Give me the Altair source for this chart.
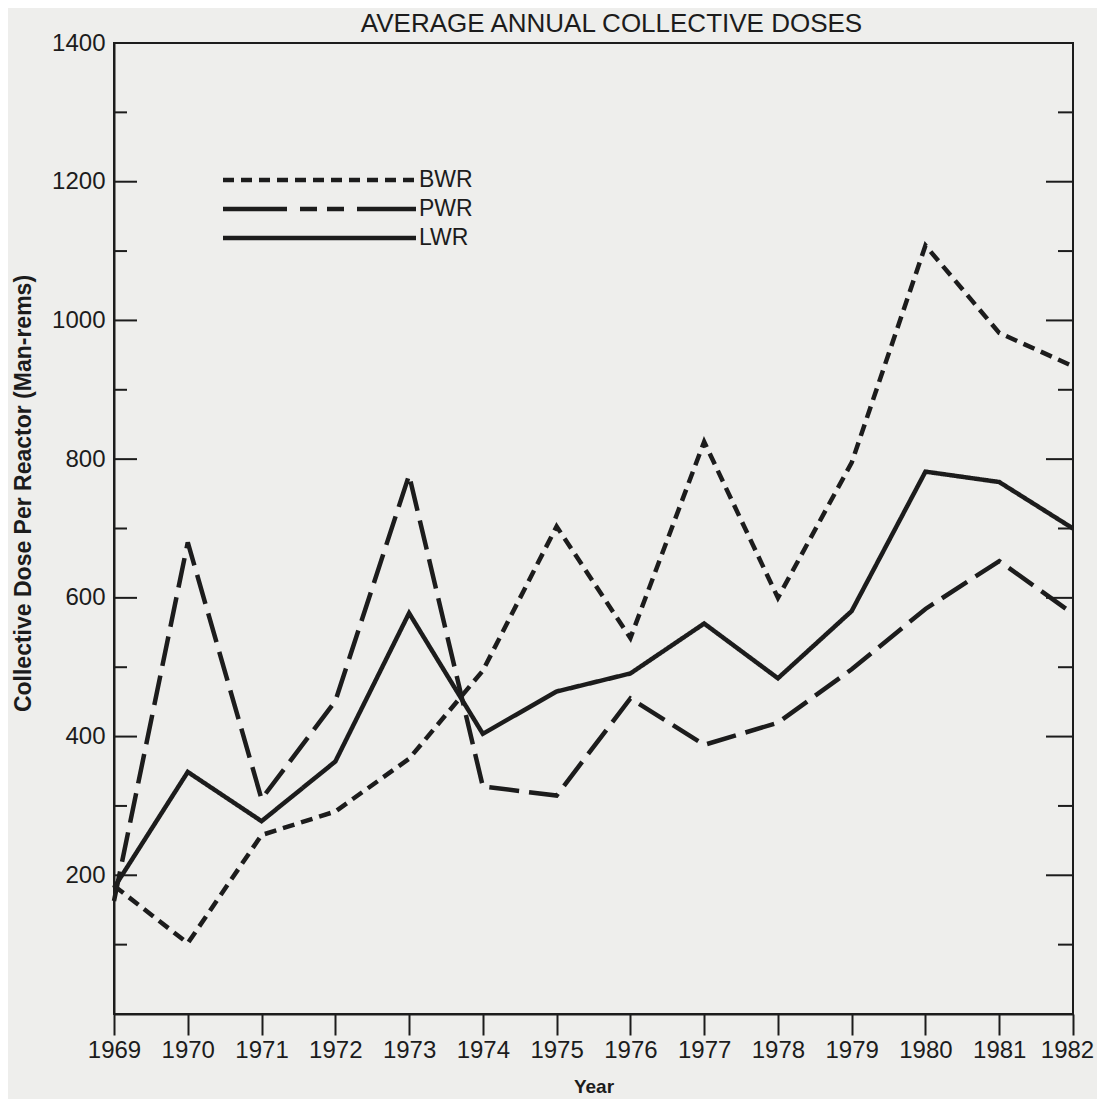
import altair as alt
import pandas as pd

# ---- data ----
years = list(range(1969, 1983))
bwr = [185, 102, 258, 292, 368, 495, 703, 542, 825, 600, 795, 1108, 982, 934]
pwr = [163, 680, 310, 451, 777, 328, 315, 455, 388, 420, 497, 584, 653, 577]
lwr = [182, 349, 278, 364, 578, 404, 465, 491, 563, 484, 581, 782, 767, 700]
series_names = ["BWR", "PWR", "LWR"]
y_label_values = [200, 400, 600, 800, 1000, 1200, 1400]
major_ticks = [200, 400, 600, 800, 1000, 1200]
minor_ticks = [100, 300, 500, 700, 900, 1100, 1300]

# ---- style ----
W, H = 959, 971
INK = "#1c1c1c"
BG = "#eeeeec"
SANS = "Liberation Sans, Arial, sans-serif"

rows = []
for name, vals in zip(series_names, [bwr, pwr, lwr]):
    for yr, v in zip(years, vals):
        rows.append({"year": yr, "dose": v, "series": name})
df = pd.DataFrame(rows)

xscale = alt.Scale(domain=[1969, 1982], nice=False, zero=False)
yscale = alt.Scale(domain=[0, 1400], nice=False, zero=True)
dash_scale = alt.Scale(domain=series_names, range=[[12, 7], [30, 10], [1, 0]])

x_axis = alt.Axis(values=years, format="d", title="Year", grid=False,
                  domain=True, domainColor=INK, domainWidth=2,
                  ticks=True, tickColor=INK, tickWidth=2, tickSize=21,
                  labelFont=SANS, labelFontSize=24, labelColor=INK,
                  labelPadding=3, labelFlush=False, labelOverlap=False,
                  labelOffset={"condition": {"test": "datum.value == 1982", "value": -6},
                               "value": 0},
                  titleFont=SANS, titleFontSize=19, titleFontWeight="bold",
                  titleColor=INK, titlePadding=15)

y_axis = alt.Axis(values=y_label_values, format="d", grid=False,
                  title="Collective Dose Per Reactor (Man-rems)",
                  domain=True, domainColor=INK, domainWidth=2,
                  ticks=False, tickSize=0,
                  labelFont=SANS, labelFontSize=24, labelColor=INK,
                  labelPadding=9, labelFlush=False, labelOverlap=False,
                  titleFont=SANS, titleFontSize=23, titleFontWeight="bold",
                  titleColor=INK, titlePadding=16, titleY=450)

lines = alt.Chart(df).mark_line(
    color=INK, strokeWidth=4.5, strokeCap="butt", strokeJoin="miter"
).encode(
    x=alt.X("year:Q", scale=xscale, axis=x_axis),
    y=alt.Y("dose:Q", scale=yscale, axis=y_axis),
    strokeDash=alt.StrokeDash("series:N", scale=dash_scale, legend=None),
    detail="series:N",
)

major_df = pd.DataFrame({"dose": major_ticks})
minor_df = pd.DataFrame({"dose": minor_ticks})


def tick_layer(data, x0, x1):
    return alt.Chart(data).mark_rule(color=INK, strokeWidth=2).encode(
        y=alt.Y("dose:Q", scale=yscale, axis=y_axis),
        x=alt.value(x0), x2=alt.value(x1),
    )


ticks = [
    tick_layer(major_df, 0, 23),
    tick_layer(minor_df, 0, 13),
    tick_layer(major_df, W, W - 27),
    tick_layer(minor_df, W, W - 15),
]


def legend_entry(name, ypix, dash=None):
    d = alt.Data(values=[{"label": name}])
    kw = dict(color=INK, strokeWidth=4.5, strokeCap="butt")
    if dash is not None:
        kw["strokeDash"] = dash
    rule = alt.Chart(d).mark_rule(**kw).encode(
        x=alt.value(109), x2=alt.value(302), y=alt.value(ypix)
    )
    txt = alt.Chart(d).mark_text(
        align="left", baseline="middle", font=SANS, fontSize=23, color=INK
    ).encode(x=alt.value(305), y=alt.value(ypix), text="label:N")
    return [rule, txt]


legend_layers = (
    legend_entry("BWR", 137, [11, 7])
    + legend_entry("PWR", 166, [64, 13, 17, 10, 17, 13, 59, 10])
    + legend_entry("LWR", 195)
)

chart = alt.layer(lines, *ticks, *legend_layers).properties(
    width=W,
    height=H,
    background=BG,
    padding={"left": 106, "top": 35, "right": 24, "bottom": 85},
    autosize=alt.AutoSizeParams(type="none"),
    title=alt.TitleParams(
        "AVERAGE ANNUAL COLLECTIVE DOSES",
        font=SANS, fontSize=26, fontWeight="normal", color=INK,
        anchor="middle", frame="group", offset=-6, dx=18,
    ),
).configure_view(stroke=INK, strokeWidth=2)

chart.save("out.html", embed_options={"renderer": "svg", "actions": False})
